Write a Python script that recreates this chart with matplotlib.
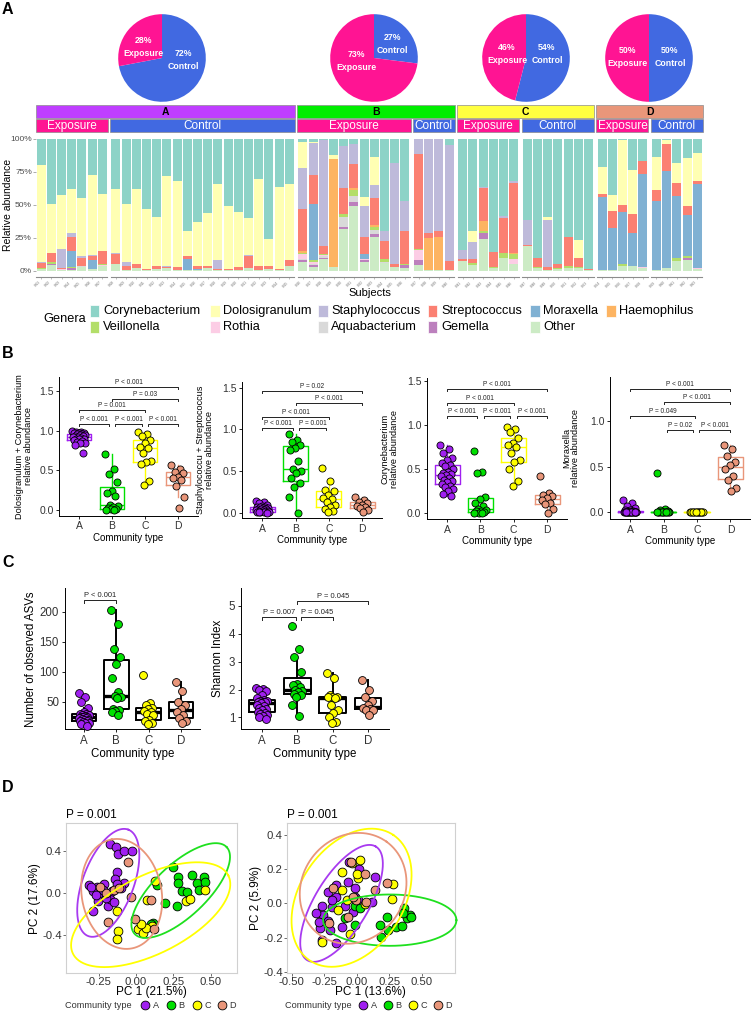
import numpy as np
import matplotlib
matplotlib.use("Agg")
import matplotlib.pyplot as plt
from matplotlib.patches import Rectangle

plt.rcParams['font.family'] = ['Liberation Sans', 'DejaVu Sans']
plt.rcParams['axes.linewidth'] = 0.8

# ======================= DATA =======================
groups = ['A', 'B', 'C', 'D']
exposure_pct = [28, 73, 46, 50]
control_pct = [72, 27, 54, 50]

facet_groups = ['A', 'A', 'B', 'B', 'C', 'C', 'D', 'D']
facet_status = ['Exposure', 'Control'] * 4
facet_sizes = [7, 18, 11, 4, 6, 7, 5, 5]
subject_ids = [f"S{n:03d}" for n in range(1, 64)]

genera = ['Corynebacterium', 'Dolosigranulum', 'Staphylococcus', 'Streptococcus',
          'Moraxella', 'Haemophilus', 'Veillonella', 'Rothia', 'Aquabacterium',
          'Gemella', 'Other']
genus_colors = ['#8DD3C7', '#FFFFB3', '#BEBADA', '#FB8072', '#80B1D3', '#FDB462',
                '#B3DE69', '#FCCDE5', '#D9D9D9', '#BC80BD', '#CCEBC5']

# percentages per subject (63 subjects, facet order above)
corynebacterium = [20, 49, 42.5, 38, 45, 27.5, 41.5,
                   38, 49, 38, 53, 59, 28, 32, 70, 63, 56, 34, 51, 55, 60, 30, 76, 36, 34,
                   2, 2, 1, 12, 5, 4, 44, 14, 70, 18, 47,
                   0, 0, 0, 4.5,
                   84, 70, 36.5, 85.5, 58.5, 32,
                   61, 90.5, 59, 95, 74.5, 76.5, 98.5,
                   21.5, 42.5, 1, 23.5, 17,
                   14, 1, 18, 14.5, 10.5]
dolosigranulum = [73.5, 37, 41, 33, 44, 60.5, 43,
                  48.5, 44, 57, 45.5, 37.5, 68.5, 65, 19, 33, 40, 58, 47.5, 42, 28, 66, 20.5, 62.5, 58,
                  20, 1, 0, 3, 0, 0, 7, 21, 0, 0, 0,
                  0, 0, 0, 0,
                  0, 8, 0, 0, 0, 0,
                  0, 0, 2, 0, 0, 13.5, 0,
                  20.5, 12, 49, 33.5, 0,
                  25, 2.5, 15, 36.5, 21]
staphylococcus = [0.5, 0.5, 14, 3, 1, 0.5, 0,
                  0.5, 3, 0, 0, 0, 0.5, 0, 0, 0, 0, 6.5, 0, 0, 0.5, 0, 0, 0, 0,
                  31, 24, 80, 0, 32, 15, 23, 10, 7, 77, 23,
                  11, 71, 70, 88,
                  7, 13, 0.5, 0, 1.5, 1,
                  19.5, 0, 36, 0, 0, 0, 0,
                  0, 0, 0, 0, 0,
                  0, 0, 0, 0, 0]
streptococcus = [4, 7, 1, 11, 6, 3, 10,
                 8, 3, 3, 1, 2, 1, 2, 2, 2.5, 1.5, 1, 1, 2, 9, 3, 2, 1, 4,
                 32, 22, 6, 0, 20, 18, 13, 20, 14, 2, 24.5,
                 72, 4, 4.5, 6.5,
                 1.5, 3, 25, 11.5, 26, 53,
                 0.5, 6.5, 2, 2.5, 22, 7, 1,
                 2, 13, 5.5, 14.5, 9.5,
                 8, 20.5, 10, 6.5, 2.5]
moraxella = [0, 0, 0, 12, 0, 7, 0,
             0, 0, 0, 0, 0, 0, 0, 8, 1, 0, 0, 0, 0, 0, 0, 0, 0, 0,
             0, 43, 0, 0, 0, 0, 4, 0, 0, 0, 0,
             0, 0, 0, 0,
             0, 0, 0, 0, 0, 0,
             0, 0, 0, 0, 0, 0, 0,
             55, 32, 39.5, 24.5, 70.5,
             52.5, 74, 47.5, 31, 63.5]
haemophilus = [0, 0, 0, 0, 0, 0, 0,
               0, 0, 0, 0, 0, 0, 0, 0, 0, 0, 0, 0, 0, 0, 0, 0, 0, 0,
               1, 0, 0, 82, 0, 2, 0, 2, 0, 0, 0,
               0, 24.5, 25, 0,
               0, 0, 8, 0, 0, 1,
               0, 0, 0, 0, 0, 0, 0,
               0.5, 0, 0, 0, 0,
               0, 0, 0, 0, 0]
veillonella = [0.5, 1, 0, 1, 0.5, 0, 1,
               0, 0, 0, 0, 0, 0, 0, 0, 0, 0, 0, 0, 0, 0, 0, 0, 0, 0,
               1, 1, 1, 0, 2, 4, 0, 2, 2, 0, 1,
               1, 0, 0, 0,
               0, 1.5, 1.5, 1, 4.5, 4,
               0, 0.5, 0, 1, 1.5, 1, 0,
               0, 0, 1, 0.5, 0,
               0, 0, 2, 2, 0]
rothia = [0, 0.5, 0.5, 0, 0, 0, 0.5,
          0, 0, 0, 0, 0, 0, 0, 0, 0, 0, 0, 0, 0, 0, 0, 0, 0, 0,
          4, 1.5, 1, 0, 0, 0, 1, 0, 0, 0, 0,
          8, 0, 0, 0,
          0, 0, 0, 0, 0, 4,
          0, 0, 0, 0, 0, 0, 0,
          0, 0, 0, 0, 1,
          0, 0, 0, 0, 1]
aquabacterium = [0, 0, 0, 0, 0.5, 0, 0,
                 0, 0, 0, 0, 0, 0, 0, 0, 0, 0, 0, 0, 0, 0, 0, 0, 0, 0,
                 1, 1, 1, 0, 8, 5, 0, 3, 1, 0, 0,
                 0, 0, 0, 0,
                 0, 0, 0, 0, 0, 0,
                 0, 0, 0, 0, 0, 0, 0,
                 0, 0, 0, 0, 0,
                 0, 0, 0, 0, 0]
gemella = [0, 0.5, 0, 1, 0, 0, 0.5,
           0, 0, 0, 0, 0, 0, 0, 0, 0, 0, 0, 0, 0, 0, 0, 0, 0, 0,
           1, 1.5, 1, 0, 1, 3, 1, 2, 0, 0, 2,
           3.5, 0, 0, 0,
           0, 0, 4, 0, 0, 0,
           0, 0, 0, 0, 0, 0, 0,
           0, 0, 0, 0, 0,
           0, 0, 0, 1, 0]
other = [1.5, 4.5, 1, 1, 3, 1.5, 3.5,
         5, 1, 2, 0.5, 1.5, 2, 1, 1, 0.5, 2.5, 0.5, 0.5, 1, 2.5, 1, 1.5, 0.5, 4,
         7, 3, 9, 3, 32, 49, 7, 26, 6, 3, 2.5,
         4.5, 0.5, 0.5, 1,
         7.5, 4.5, 24.5, 2, 9.5, 5,
         19, 2.5, 1, 1.5, 2, 2, 0.5,
         0.5, 0.5, 4, 3.5, 2,
         0.5, 2, 7.5, 8.5, 1.5]

# Panel B: relative abundances per community type
dolo_cory = [[0.99, 0.98, 0.98, 0.97, 0.97, 0.97, 0.96, 0.96, 0.95, 0.94, 0.93, 0.93, 0.92,
              0.92, 0.91, 0.90, 0.90, 0.89, 0.88, 0.87, 0.86, 0.85, 0.84, 0.82, 0.72],
             [0.70, 0.52, 0.45, 0.35, 0.24, 0.21, 0.18, 0.06, 0.05, 0.04, 0.02, 0.01, 0.01, 0.00, 0.00],
             [0.98, 0.96, 0.93, 0.88, 0.85, 0.80, 0.78, 0.72, 0.62, 0.60, 0.58, 0.36, 0.32],
             [0.57, 0.52, 0.48, 0.46, 0.42, 0.40, 0.38, 0.30, 0.17, 0.03]]
staph_strep = [[0.15, 0.13, 0.12, 0.10, 0.09, 0.08, 0.08, 0.07, 0.06, 0.06, 0.05, 0.05, 0.05,
                0.04, 0.04, 0.03, 0.03, 0.03, 0.02, 0.02, 0.02, 0.01, 0.01, 0.01, 0.00],
               [0.94, 0.88, 0.85, 0.82, 0.78, 0.76, 0.62, 0.53, 0.50, 0.48, 0.42, 0.36, 0.31, 0.20, 0.00],
               [0.54, 0.38, 0.28, 0.26, 0.22, 0.18, 0.17, 0.13, 0.10, 0.08, 0.05, 0.03, 0.02],
               [0.19, 0.16, 0.14, 0.12, 0.10, 0.09, 0.08, 0.06, 0.04, 0.02]]
coryne = [[0.77, 0.73, 0.68, 0.63, 0.60, 0.57, 0.55, 0.53, 0.50, 0.47, 0.45, 0.44, 0.43,
           0.42, 0.40, 0.38, 0.36, 0.35, 0.33, 0.31, 0.30, 0.28, 0.25, 0.22, 0.20],
          [0.70, 0.47, 0.45, 0.18, 0.16, 0.12, 0.08, 0.05, 0.04, 0.03, 0.02, 0.01, 0.00, 0.00, 0.00],
          [0.98, 0.95, 0.92, 0.85, 0.80, 0.77, 0.75, 0.68, 0.60, 0.58, 0.50, 0.36, 0.31],
          [0.42, 0.23, 0.21, 0.19, 0.17, 0.15, 0.12, 0.10, 0.05, 0.00]]
morax = [[0.13, 0.10, 0.07, 0.05, 0.03, 0.02, 0.01, 0, 0, 0, 0, 0, 0,
          0, 0, 0, 0, 0, 0, 0, 0, 0, 0, 0, 0],
         [0.43, 0.04, 0.02, 0.01, 0, 0, 0, 0, 0, 0, 0, 0, 0, 0, 0],
         [0, 0, 0, 0, 0, 0, 0, 0, 0, 0, 0, 0, 0],
         [0.74, 0.70, 0.62, 0.55, 0.52, 0.48, 0.40, 0.35, 0.27, 0.23]]

# Panel C: alpha diversity
asv_counts = [[65, 58, 50, 40, 33, 30, 29, 28, 27, 26, 25, 25, 24, 23, 22, 21, 20, 19, 18,
               17, 16, 15, 14, 12, 10],
              [202, 179, 138, 125, 113, 90, 66, 60, 58, 56, 38, 36, 34, 32, 28],
              [95, 48, 45, 40, 38, 35, 33, 30, 28, 20, 18, 15, 12],
              [82, 68, 50, 45, 38, 33, 28, 22, 18, 14]]
shannon = [[2.07, 2.03, 2.00, 1.95, 1.80, 1.70, 1.62, 1.60, 1.58, 1.56, 1.55, 1.55, 1.52,
            1.45, 1.40, 1.35, 1.30, 1.25, 1.20, 1.15, 1.12, 1.10, 1.05, 1.00, 0.95],
           [4.28, 3.47, 3.18, 2.63, 2.20, 2.15, 2.10, 2.00, 1.95, 1.90, 1.85, 1.80, 1.75, 1.45, 1.05],
           [2.60, 2.42, 1.80, 1.75, 1.74, 1.72, 1.70, 1.45, 1.25, 1.15, 1.00, 0.85, 0.80],
           [2.35, 2.00, 1.75, 1.60, 1.45, 1.32, 1.30, 1.28, 1.25, 1.10]]

# significance brackets: (x1, x2, y, label)
sig_dolo_cory = [(1, 4, 1.547, 'P < 0.001'), (2, 4, 1.40, 'P = 0.03'), (1, 3, 1.26, 'P = 0.001'),
                 (1, 1.9, 1.085, 'P < 0.001'), (2.1, 2.9, 1.085, 'P < 0.001'), (3.1, 4, 1.085, 'P < 0.001')]
sig_staph_strep = [(1, 4, 1.46, 'P = 0.02'), (2, 4, 1.31, 'P < 0.001'), (1, 3, 1.15, 'P < 0.001'),
                   (1, 1.92, 1.02, 'P < 0.001'), (2.1, 2.92, 1.02, 'P = 0.001')]
sig_coryne = [(1, 4, 1.41, 'P < 0.001'), (1, 3, 1.25, 'P < 0.001'), (1, 1.9, 1.095, 'P < 0.001'),
              (2.1, 2.9, 1.095, 'P < 0.001'), (3.1, 4, 1.095, 'P < 0.001')]
sig_morax = [(1, 4, 1.36, 'P < 0.001'), (2, 4, 1.21, 'P < 0.001'), (1, 2.95, 1.06, 'P = 0.049'),
             (2.1, 2.88, 0.90, 'P = 0.02'), (3.06, 4, 0.90, 'P < 0.001')]
sig_asv = [(1, 2, 219.5, 'P < 0.001')]
sig_shannon = [(2, 4, 5.18, 'P = 0.045'), (1, 1.95, 4.59, 'P = 0.007'), (2.1, 3, 4.59, 'P = 0.045')]

# Panel D: PCoA coordinates
pcoa1_x = [[-0.174, -0.134, -0.118, -0.078, -0.029, -0.129, -0.141, -0.313, -0.263, -0.286, -0.241,
            -0.252, -0.290, -0.185, -0.174, -0.080, -0.129, -0.214, -0.300, -0.220, -0.160, -0.200,
            -0.100, -0.270, -0.150],
           [0.139, 0.194, 0.116, 0.250, 0.283, 0.283, 0.373, 0.455, 0.306, 0.340, 0.406, 0.424,
            0.272, 0.100, 0.460],
           [-0.129, -0.123, -0.125, 0.071, 0.127, 0.016, 0.049, 0.105, 0.070, 0.333, 0.362, 0.462, 0.030],
           [-0.051, -0.201, -0.145, -0.114, -0.036, -0.185, 0.098, -0.007, 0.123, -0.240]]
pcoa1_y = [[0.460, 0.434, 0.371, 0.396, 0.396, 0.196, 0.133, 0.079, 0.053, 0.022, -0.003, -0.073,
            -0.169, -0.121, -0.057, 0.092, 0.086, 0.086, 0.060, 0.030, 0.020, -0.050, 0.050, -0.020, -0.090],
           [0.070, -0.099, -0.289, 0.244, 0.155, 0.092, 0.165, 0.149, 0.015, 0.006, 0.092, 0.029,
            -0.121, -0.300, 0.100],
           [-0.169, -0.359, -0.438, -0.067, 0.110, -0.343, -0.385, -0.311, -0.330, -0.073, -0.057, 0.029, -0.300],
           [0.292, -0.003, 0.029, 0.048, -0.035, -0.273, -0.067, -0.248, -0.343, 0.060]]
pcoa2_x = [[-0.060, 0.019, -0.065, -0.014, 0.140, -0.155, -0.219, -0.155, -0.270, -0.193, -0.091,
            -0.258, -0.283, -0.270, -0.155, -0.116, -0.219, -0.193, 0.115, -0.014, 0.012, -0.309,
            -0.206, -0.027, -0.288],
           [-0.014, -0.091, -0.014, 0.178, 0.235, 0.186, 0.245, 0.302, 0.353, 0.365, 0.384, 0.409,
            0.422, 0.358, 0.025],
           [-0.039, -0.109, 0.012, -0.109, -0.073, 0.063, -0.142, 0.281, 0.276, -0.270, -0.052, 0.025, 0.005],
           [-0.045, 0.068, -0.181, 0.235, 0.140, -0.006, -0.065, -0.211, 0.076, -0.027]]
pcoa2_y = [[0.243, 0.199, 0.126, 0.088, 0.152, 0.107, 0.068, 0.039, -0.016, -0.020, -0.016, -0.068,
            -0.146, -0.215, -0.234, -0.137, -0.102, 0.019, 0.009, 0.039, 0.019, -0.058, -0.156,
            -0.049, -0.108],
           [-0.016, -0.088, -0.127, -0.127, -0.078, -0.195, -0.156, -0.137, -0.131, -0.026, -0.088,
            -0.068, -0.078, -0.058, -0.029],
           [0.234, 0.185, 0.146, 0.078, 0.019, -0.004, -0.039, 0.111, 0.023, -0.225, -0.180, 0.253, 0.171],
           [0.243, 0.171, 0.088, 0.117, 0.078, 0.019, -0.078, -0.117, 0.009, 0.039]]
# 95% ellipses: (centre x, centre y, semi-axis-1 dx, dy, semi-axis-2 dx, dy)
ellipse1 = [(-0.186, 0.095, 0.134, 0.505, 0.159, -0.085),
            (0.299, 0.022, 0.308, 0.412, 0.119, -0.180),
            (0.098, -0.207, 0.520, 0.371, 0.117, -0.331),
            (-0.096, -0.010, -0.067, 0.517, 0.263, 0.069)]
ellipse2 = [(-0.116, 0.000, 0.264, 0.332, 0.177, -0.081),
            (0.255, -0.098, 0.513, 0.000, 0.000, -0.150),
            (-0.039, 0.033, 0.321, 0.367, 0.332, -0.168),
            (-0.027, 0.088, 0.256, 0.273, 0.321, -0.174)]

# ======================= STYLE =======================
exp_col, ctrl_col = '#FF1493', '#4169E1'
header_cols = {'A': '#BF3EFF', 'B': '#00EE00', 'C': '#FFFF40', 'D': '#E9967A'}
pt_cols = ['#A020F0', '#00E000', '#FFFF00', '#E9967A']
ell_cols = ['#A83AF0', '#1EE01E', '#FFFF00', '#E9967A']
txt_grey = '#333333'

W, H = 751, 1013
fig = plt.figure(figsize=(W / 100, H / 100), dpi=100)
fig.patch.set_facecolor('white')


def px_axes(l, t, r, b, **kw):
    return fig.add_axes([l / W, 1 - b / H, (r - l) / W, (b - t) / H], **kw)


def ptext(x, y, s, **kw):
    fig.text(x / W, 1 - y / H, s, **kw)


def prect(l, t, r, b, color, ec='#8C8C8C'):
    fig.add_artist(Rectangle((l / W, 1 - b / H), (r - l) / W, (b - t) / H,
                             transform=fig.transFigure, facecolor=color,
                             edgecolor=ec, linewidth=0.5))


for lab, y in [('A', 2), ('B', 346), ('C', 555), ('D', 780)]:
    ptext(2, y, lab, fontsize=11.5, fontweight='bold', va='top', ha='left')

# ---------------- Panel A: pies ----------------
pie_cx = [162, 374, 526, 649]
pie_lab = [((0.48, -0.05), (-0.43, 0.25)), ((0.43, 0.32), (-0.41, -0.07)),
           ((0.48, 0.09), (-0.43, 0.09)), ((0.48, 0.02), (-0.50, 0.02))]
for i, g in enumerate(groups):
    ax = px_axes(pie_cx[i] - 46, 58 - 46, pie_cx[i] + 46, 58 + 46)
    ax.pie([control_pct[i], exposure_pct[i]], colors=[ctrl_col, exp_col], startangle=90,
           counterclock=False, radius=1, wedgeprops=dict(linewidth=0))
    ax.set_xlim(-1.05, 1.05)
    ax.set_ylim(-1.05, 1.05)
    ax.set_aspect('equal')
    ax.axis('off')
    (cx, cy), (ex, ey) = pie_lab[i]
    ax.text(cx, cy, f"{control_pct[i]}%\nControl", color='white', fontsize=6.3,
            fontweight='bold', ha='center', va='center', linespacing=1.5)
    ax.text(ex, ey, f"{exposure_pct[i]}%\nExposure", color='white', fontsize=6.3,
            fontweight='bold', ha='center', va='center', linespacing=1.5)

# ---------------- Panel A: stacked bars ----------------
pitch, gap, x0 = 10.2, 3.4, 36.0
facet_bounds = []
cur = x0
for n in facet_sizes:
    facet_bounds.append((cur, cur + n * pitch))
    cur += n * pitch + gap

# headers
for g in groups:
    idx = [k for k, fg in enumerate(facet_groups) if fg == g]
    l, r = facet_bounds[idx[0]][0] - 0.5, facet_bounds[idx[-1]][1] + 0.5
    prect(l, 105, r, 118.5, header_cols[g])
    ptext((l + r) / 2, 111.8, g, fontsize=7.5, fontweight='bold', ha='center', va='center')
for k, st in enumerate(facet_status):
    l, r = facet_bounds[k]
    prect(l - 0.5, 119.5, r + 0.5, 132.5, exp_col if st == 'Exposure' else ctrl_col)
    ptext((l + r) / 2, 126.3, st, fontsize=8.5, color='white', ha='center', va='center')

genus_values = [corynebacterium, dolosigranulum, staphylococcus, streptococcus, moraxella,
                haemophilus, veillonella, rothia, aquabacterium, gemella, other]
start = 0
for k, n in enumerate(facet_sizes):
    l, r = facet_bounds[k]
    ax = px_axes(l, 137, r, 277)
    x = np.arange(n)
    bottom = np.zeros(n)
    for gi in range(len(genera) - 1, -1, -1):
        vals = np.array(genus_values[gi][start:start + n], dtype=float)
        ax.bar(x, vals, bottom=bottom, width=0.9, color=genus_colors[gi], linewidth=0)
        bottom += vals
    ax.set_xlim(-0.5, n - 0.5)
    ax.set_ylim(-4.55, 101.5)
    for s in ['top', 'right', 'left']:
        ax.spines[s].set_visible(False)
    ax.spines['bottom'].set_color('#8C8C8C')
    ax.set_xticks(x)
    ax.set_xticklabels(subject_ids[start:start + n], rotation=45, fontsize=2.2,
                       color='#666666', ha='right')
    ax.tick_params(axis='x', length=1.5, width=0.4, color='#8C8C8C', pad=1)
    if k == 0:
        ax.set_yticks([0, 25, 50, 75, 100])
        ax.set_yticklabels(['0%', '25%', '50%', '75%', '100%'], fontsize=6, color='#4D4D4D')
        ax.tick_params(axis='y', length=2, width=0.5, color='#8C8C8C', pad=1)
    else:
        ax.set_yticks([])
    start += n

ptext(8, 205, 'Relative abundance', rotation=90, ha='center', va='center', fontsize=7.5)
ptext(370, 293, 'Subjects', ha='center', va='center', fontsize=8)

# legend
ptext(43, 319, 'Genera', fontsize=9.2, ha='left', va='center')
col_x = [90, 210, 318, 428, 530, 606]
for i, (name, col) in enumerate(zip(genera, genus_colors)):
    row, c = (0, i) if i < 6 else (1, i - 6)
    y = 311 if row == 0 else 327
    xs = col_x[c]
    prect(xs, y - 6, xs + 9.5, y + 6, col, ec='white')
    ptext(xs + 13, y, name, fontsize=9.2, ha='left', va='center')


# ---------------- helpers for box panels ----------------
def style_classic(ax, fs):
    for s in ['top', 'right']:
        ax.spines[s].set_visible(False)
    ax.spines['left'].set_linewidth(0.7)
    ax.spines['bottom'].set_linewidth(0.7)
    ax.tick_params(labelsize=fs, length=2.5, width=0.6, colors='black', labelcolor=txt_grey, pad=1.5)


def draw_boxes(ax, data, box_cols, lw, med_lw, width, pt_s, jit):
    for i, vals in enumerate(data):
        c = box_cols[i]
        ax.boxplot([vals], positions=[i + 1], widths=width, showfliers=False, showcaps=False,
                   boxprops=dict(color=c, linewidth=lw), whiskerprops=dict(color=c, linewidth=lw),
                   medianprops=dict(color=c, linewidth=med_lw), manage_ticks=False)
        n = len(vals)
        offs = ((np.arange(n) * 0.618034) % 1.0 - 0.5) * 2 * jit
        ax.scatter(i + 1 + offs, vals, s=pt_s, color=pt_cols[i], edgecolors='black',
                   linewidths=0.6, zorder=3, clip_on=False)


def draw_sig(ax, sigs, tip, fs, gap_txt):
    for x1, x2, y, lab in sigs:
        ax.plot([x1, x1, x2, x2], [y - tip, y, y, y - tip], color='#222222', lw=0.7, clip_on=False)
        ax.text((x1 + x2) / 2, y + gap_txt, lab, ha='center', va='bottom', fontsize=fs, color='#222222')


# ---------------- Panel B ----------------
panelB = [
    (dolo_cory, sig_dolo_cory, (59.2, 376.7, 197.8, 515.7), (-0.072, 1.68), [0, 0.5, 1.0, 1.5],
     'Dolosigranulum + Corynebacterium\nrelative abundance', -0.19, 79.3),
    (staph_strep, sig_staph_strep, (242.4, 381.7, 382.0, 518.3), (-0.06, 1.57), [0, 0.5, 1.0, 1.5],
     'Staphylococcu + Streptococcus\nrelative abundance', -0.20, 83.7),
    (coryne, sig_coryne, (427.0, 378.0, 567.0, 519.0), (-0.065, 1.53), [0, 0.5, 1.0, 1.5],
     'Corynebacterium\nrelative abundance', -0.20, 88.2),
    (morax, sig_morax, (610.0, 376.7, 750.5, 519.0), (-0.074, 1.49), [0, 0.5, 1.0],
     'Moraxella\nrelative abundance', -0.21, 91.0),
]
for data, sigs, box, ylim, yt, ylab, labx, pxu in panelB:
    ax = px_axes(*box)
    draw_boxes(ax, data, pt_cols, lw=1.0, med_lw=1.0, width=0.75, pt_s=26, jit=0.2)
    draw_sig(ax, sigs, tip=2.0 / pxu, fs=4.7, gap_txt=1.0 / pxu)
    ax.set_xlim(0.4, 4.6)
    ax.set_ylim(*ylim)
    ax.set_yticks(yt)
    ax.set_yticklabels([f"{v:.1f}" for v in yt])
    ax.set_xticks([1, 2, 3, 4])
    ax.set_xticklabels(groups)
    style_classic(ax, 7.5)
    ax.set_xlabel('Community type', fontsize=7, labelpad=1)
    ax.set_ylabel(ylab, fontsize=6.6, linespacing=1.0)
    ax.yaxis.set_label_coords(labx, 0.5)

# ---------------- Panel C ----------------
panelC = [
    (asv_counts, sig_asv, (64.6, 588.3, 200.4, 729.3), (4, 239), [50, 100, 150, 200],
     'Number of observed ASVs', -0.20, 0.6, '{:.0f}'),
    (shannon, sig_shannon, (240.8, 588.3, 389.2, 729.3), (0.574, 5.63), [1, 2, 3, 4, 5],
     'Shannon Index', -0.113, 27.9, '{:.0f}'),
]
for data, sigs, box, ylim, yt, ylab, labx, pxu, fmt in panelC:
    ax = px_axes(*box)
    draw_boxes(ax, data, ['black'] * 4, lw=1.4, med_lw=2.4, width=0.76, pt_s=32, jit=0.16)
    draw_sig(ax, sigs, tip=2.7 / pxu, fs=5.4, gap_txt=1.2 / pxu)
    ax.set_xlim(0.4, 4.6)
    ax.set_ylim(*ylim)
    ax.set_yticks(yt)
    ax.set_yticklabels([fmt.format(v) for v in yt])
    ax.set_xticks([1, 2, 3, 4])
    ax.set_xticklabels(groups)
    style_classic(ax, 8.3)
    ax.set_xlabel('Community type', fontsize=8.3, labelpad=1)
    ax.set_ylabel(ylab, fontsize=8.3)
    ax.yaxis.set_label_coords(labx, 0.5)

# ---------------- Panel D ----------------
panelD = [
    (pcoa1_x, pcoa1_y, ellipse1, (65.7, 823.3, 236.7, 973.3), (-0.471, 0.674), (-0.763, 0.66),
     [-0.25, 0.0, 0.25, 0.50], [-0.4, 0.0, 0.4], 'PC 1 (21.5%)', 'PC 2 (17.6%)'),
    (pcoa2_x, pcoa2_y, ellipse2, (286.7, 823.3, 455.0, 972.7), (-0.538, 0.757), (-0.405, 0.468),
     [-0.50, -0.25, 0.0, 0.25, 0.50], [-0.4, -0.2, 0.0, 0.2, 0.4], 'PC 1 (13.6%)', 'PC 2 (5.9%)'),
]
t = np.linspace(0, 2 * np.pi, 300)
for xs, ys, ells, box, xl, yl, xt, yt, xlab, ylab in panelD:
    ax = px_axes(*box)
    for gi in range(4):
        ax.scatter(xs[gi], ys[gi], s=40, color=pt_cols[gi], edgecolors='black', linewidths=0.6, zorder=2)
    for gi, (cx, cy, ax1, ay1, bx1, by1) in enumerate(ells):
        ex = cx + ax1 * np.cos(t) + bx1 * np.sin(t)
        ey = cy + ay1 * np.cos(t) + by1 * np.sin(t)
        ax.plot(ex, ey, color=ell_cols[gi], lw=1.3, zorder=3, clip_on=False)
    ax.set_xlim(*xl)
    ax.set_ylim(*yl)
    ax.set_xticks(xt)
    ax.set_xticklabels([f"{v:.2f}" for v in xt])
    ax.set_yticks(yt)
    ax.set_yticklabels([f"{v:.1f}" for v in yt])
    for s in ax.spines.values():
        s.set_color('#D0D0D0')
        s.set_linewidth(0.8)
    ax.tick_params(labelsize=8.2, length=2.0, width=0.6, colors='#555555', labelcolor=txt_grey, pad=0.8)
    ax.set_xlabel(xlab, fontsize=8.5, labelpad=-0.5)
    ax.set_ylabel(ylab, fontsize=8.5, labelpad=1)
    ax.text(0, 1.018, 'P = 0.001', transform=ax.transAxes, ha='left', va='bottom', fontsize=8.5)

# legends for Panel D
lax = px_axes(0, 998, W, 1013)
lax.set_xlim(0, W)
lax.set_ylim(1013, 998)
lax.axis('off')
for tx, circ in [(65, [145, 170.7, 196.7, 221.7]), (285, [363, 388, 413, 438])]:
    lax.text(tx, 1005.5, 'Community type', fontsize=6.6, ha='left', va='center', color=txt_grey)
    for gi, cxp in enumerate(circ):
        lax.scatter([cxp], [1005.5], s=40, color=pt_cols[gi], edgecolors='black', linewidths=0.6,
                    clip_on=False)
        lax.text(cxp + 7.5, 1005.5, groups[gi], fontsize=6.6, ha='left', va='center', color=txt_grey)

fig.savefig('out.png', dpi=100)
